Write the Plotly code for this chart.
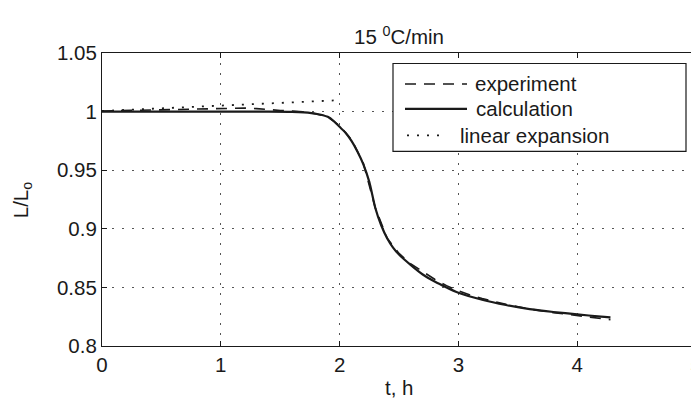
import plotly.graph_objects as go

# ---- data ----
calc_t = [0.0, 0.5, 1.0, 1.4, 1.6, 1.7, 1.8, 1.9, 1.95, 2.0, 2.05, 2.1, 2.15, 2.2, 2.25,
          2.3, 2.35, 2.4, 2.45, 2.5, 2.6, 2.7, 2.8, 2.9, 3.0, 3.2, 3.4, 3.6, 3.8, 4.0, 4.2, 4.28]
calc_L = [1.000, 1.000, 1.000, 1.000, 0.9998, 0.9993, 0.9982, 0.9955, 0.992, 0.987, 0.982,
          0.975, 0.966, 0.955, 0.940, 0.918, 0.903, 0.892, 0.884, 0.878, 0.869, 0.861, 0.855,
          0.850, 0.8455, 0.8395, 0.835, 0.8315, 0.829, 0.827, 0.825, 0.8245]

exp_t = [0.0, 0.2, 0.4, 0.6, 0.8, 1.0, 1.2, 1.3, 1.4, 1.5, 1.6, 1.7, 1.8, 1.9, 2.0, 2.1,
         2.2, 2.3, 2.4, 2.5, 2.6, 2.7, 2.8, 2.9, 3.0, 3.1, 3.2, 3.4, 3.6, 3.8, 4.0, 4.2, 4.28]
exp_L = [1.0005, 1.001, 1.0015, 1.002, 1.0025, 1.003, 1.003, 1.0025, 1.0015, 1.001, 1.0005,
         0.9998, 0.998, 0.9955, 0.988, 0.976, 0.956, 0.918, 0.892, 0.879, 0.870, 0.8635,
         0.857, 0.8515, 0.847, 0.8435, 0.8405, 0.8355, 0.8315, 0.8285, 0.826, 0.824, 0.8225]

lin_t = [0.0, 1.0, 1.95]
lin_L = [1.0005, 1.0052, 1.0095]

x_ticks = [0, 1, 2, 3, 4, 5]
y_ticks = [0.8, 0.85, 0.9, 0.95, 1.0, 1.05]
y_ticktext = ["0.8", "0.85", "0.9", "0.95", "1", "1.05"]

series_names = ["experiment", "calculation", "linear expansion"]

FONT = "Liberation Sans, Arial, Helvetica, sans-serif"
FS = 20.5
INK = "#1a1a1a"

# page body has an 8px margin: the figure is drawn 8px in from the window edge
OFF = 8
FIG_W, FIG_H = 699 - OFF, 400 - OFF
# plot area in window pixels (reference)
PL, PT, PR, PB = 102, 52.5, 696, 346
L, T, W, H = PL - OFF, PT - OFF, PR - PL, PB - PT


def px(x):  # window pixel -> paper x
    return (x - PL) / W


def py(y):  # window pixel -> paper y
    return (PB - y) / H


fig = go.Figure()
fig.add_trace(go.Scatter(x=exp_t, y=exp_L, mode="lines", name=series_names[0],
                         line=dict(color=INK, width=1.6, dash="11px,8px"), showlegend=False))
fig.add_trace(go.Scatter(x=calc_t, y=calc_L, mode="lines", name=series_names[1],
                         line=dict(color=INK, width=2.2, shape="spline", smoothing=0.6),
                         showlegend=False))
fig.add_trace(go.Scatter(x=lin_t, y=lin_L, mode="lines", name=series_names[2],
                         line=dict(color=INK, width=1.8, dash="2px,8px"), showlegend=False))

# ---- manual MATLAB-style legend ----
shapes = [dict(type="rect", xref="paper", yref="paper", x0=px(393), x1=px(686),
               y0=py(151), y1=py(63), fillcolor="white", line=dict(color=INK, width=1.2),
               layer="above")]
entries = [
    (series_names[0], 83.5, 405, 467, 473, "11px,8px", 1.6),
    (series_names[1], 108.5, 405, 467, 474, "solid", 2.2),
    (series_names[2], 135, 407, 442, 458, "2px,8px", 1.8),
]
annotations = []
for name, yy, x0, x1, xt, dash, w in entries:
    shapes.append(dict(type="line", xref="paper", yref="paper", x0=px(x0), x1=px(x1),
                       y0=py(yy), y1=py(yy), line=dict(color=INK, width=w, dash=dash),
                       layer="above"))
    annotations.append(dict(text=name, xref="paper", yref="paper", x=px(xt), y=py(yy),
                            xanchor="left", yanchor="middle", showarrow=False,
                            font=dict(family=FONT, size=FS, color=INK)))

# axis titles
annotations.append(dict(text="t, h", xref="paper", yref="paper", x=0.5, y=py(388),
                        xanchor="center", yanchor="middle", showarrow=False,
                        font=dict(family=FONT, size=FS, color=INK)))
annotations.append(dict(text="L/L<sub>o</sub>", xref="paper", yref="paper", x=px(22),
                        y=py(200), xanchor="center", yanchor="middle", showarrow=False,
                        textangle=-90, font=dict(family=FONT, size=FS, color=INK)))

fig.update_layout(
    width=FIG_W, height=FIG_H,
    margin=dict(l=L, r=FIG_W - L - W, t=T, b=FIG_H - T - H, autoexpand=False),
    paper_bgcolor="white", plot_bgcolor="white",
    font=dict(family=FONT, size=FS, color=INK),
    title=dict(text="15 <sup>0</sup>C/min", x=0.5, xref="paper", y=1 - (37 - OFF) / FIG_H,
               yanchor="middle", xanchor="center", font=dict(size=FS),
               automargin=False),
    shapes=shapes, annotations=annotations,
)
fig.update_xaxes(range=[0, 5], tickvals=x_ticks, ticktext=[str(v) for v in x_ticks],
                 showline=True, linecolor=INK, linewidth=1.2, mirror="allticks",
                 ticks="inside", ticklen=5, tickcolor=INK, showgrid=True,
                 gridcolor="#555", gridwidth=1, griddash="2px,8px", zeroline=False,
                 automargin=False, ticklabeloverflow="allow")
fig.update_yaxes(range=[0.8, 1.05], tickvals=y_ticks, ticktext=y_ticktext,
                 showline=True, linecolor=INK, linewidth=1.2, mirror="allticks",
                 ticks="inside", ticklen=5, tickcolor=INK, showgrid=True,
                 gridcolor="#555", gridwidth=1, griddash="2px,8px", zeroline=False,
                 automargin=False)

fig.write_html("out.html")
